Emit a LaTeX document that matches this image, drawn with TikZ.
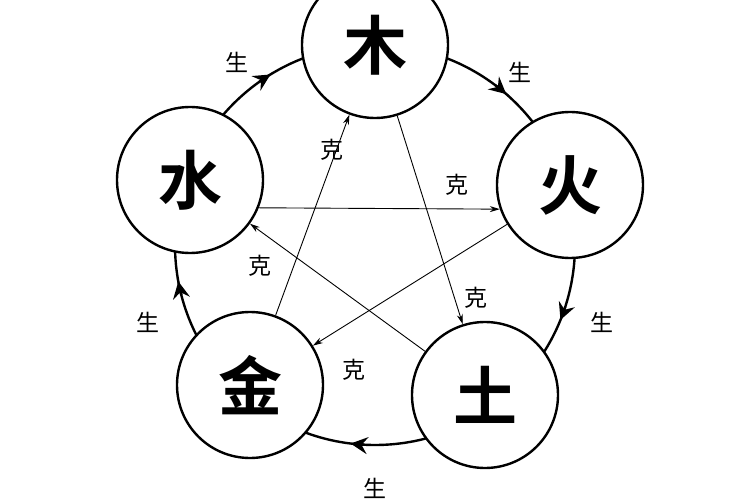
\documentclass[tikz,border=0pt]{standalone}
\usepackage{fontspec}
\newfontfamily\cjk{Noto Sans CJK SC}
\newfontfamily\cjkb{Noto Sans CJK SC Bold}
\usetikzlibrary{arrows.meta}
\begin{document}
\begin{tikzpicture}[x=1pt,y=-1pt,
 el/.style={circle,draw,line width=2.4pt,fill=white,minimum size=146pt,inner sep=0pt,font=\cjkb\fontsize{64}{66}\selectfont},
 lab/.style={font=\cjk\fontsize{23}{25}\selectfont},
 ke/.style={-{Stealth[length=10pt,width=6pt]},line width=0.9pt}]
\fill[white] (0,0) rectangle (750,500);
\useasboundingbox (0,0) rectangle (750,500);
\coordinate (c) at (375,245);
\draw[line width=2.4pt] (c) circle[radius=200];
\foreach \a in {53,-18,-93,194.5,125.5}
  \draw[line width=2.4pt,-{Stealth[length=17pt,width=17pt,inset=6pt]}] ([shift={(\a:200 and -200)}]c) arc[start angle=-\a,end angle=-\a+4,radius=200];
\node[el] (mu) at (375,45) {木};
\node[el] (huo) at (570,185) {火};
\node[el] (tu) at (485,395) {土};
\node[el] (jin) at (250,385) {金};
\node[el] (shui) at (190,180) {水};
\draw[ke] (mu) -- (tu);
\draw[ke] (tu) -- (shui);
\draw[ke] (shui.-22) -- (huo.-161);
\draw[ke] (huo) -- (jin);
\draw[ke] (jin) -- (mu);
\node[lab] (s1) at (237,62) {生};
\node[lab] (s2) at (520,72) {生};
\node[lab] (s3) at (602,322) {生};
\node[lab] (s4) at (375,488) {生};
\node[lab] (s5) at (148,322) {生};
\node[lab] (k1) at (332,150) {克};
\node[lab] (k2) at (457,185) {克};
\node[lab] (k3) at (476,298) {克};
\node[lab] (k4) at (354,370) {克};
\node[lab] (k5) at (260,266) {克};
\end{tikzpicture}
\end{document}
